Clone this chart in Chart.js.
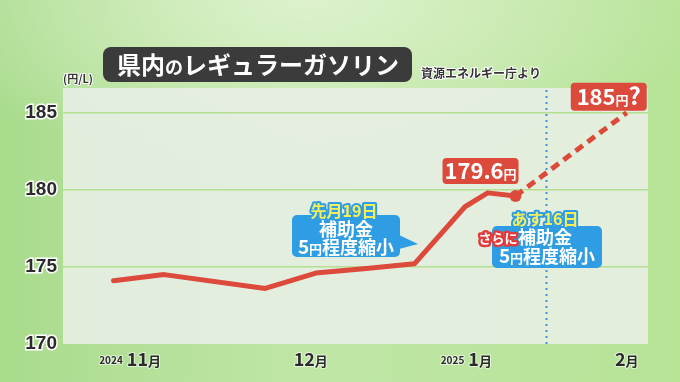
<!DOCTYPE html>
<html>
<head>
<meta charset="utf-8">
<script src="https://cdn.jsdelivr.net/npm/chart.js@4"></script>
<style>
  html, body { margin: 0; padding: 0; }
  body {
    width: 680px; height: 382px; overflow: hidden;
    background:
      radial-gradient(ellipse 60% 45% at 45% 0%, rgba(222,242,206,0.95) 0%, rgba(222,242,206,0) 100%),
      linear-gradient(90deg, #a8db8c 0%, #c0e6a6 45%, #b6e396 100%);
  }
  #wrap { position: relative; width: 680px; height: 382px; }
</style>
</head>
<body>
<div id="wrap"><canvas id="chart" width="680" height="382"></canvas></div>
<script>
// days counted from 2024-11-01
const pointDays = [-9.5, 0.5, 20.5, 30.5, 40.5, 50, 60, 64.5, 70];
const prices = [174.1, 174.5, 173.6, 174.6, 174.9, 175.2, 178.9, 179.8, 179.6];
const forecastDays = [70, 92];
const forecastPrices = [179.6, 185];
const yTicks = [170, 175, 180, 185];
const monthTickDays = [-3.5, 29.5, 63, 92];
const monthLabels = ['11', '12', '1', '2'];
const yearLabels = ['2024', '', '2025', ''];
const cutDay = 76; // あす16日

const FONT = '"Noto Sans CJK JP", "Noto Sans", sans-serif';
const RED = '#dc4a3c';
const BLUE = '#2f9de4';

function runs(ctx, parts, cx, baseline, fill, stroke, sw) {
  let total = 0;
  parts.forEach(p => { ctx.font = 'bold ' + p[1] + 'px ' + FONT; p.w = ctx.measureText(p[0]).width; total += p.w; });
  let x = cx - total / 2;
  ctx.textAlign = 'left';
  ctx.textBaseline = 'alphabetic';
  parts.forEach(p => {
    ctx.font = 'bold ' + p[1] + 'px ' + FONT;
    if (stroke) {
      ctx.strokeStyle = stroke; ctx.lineWidth = sw; ctx.lineJoin = 'round';
      ctx.strokeText(p[0], x, baseline);
    }
    ctx.fillStyle = fill;
    ctx.fillText(p[0], x, baseline);
    x += p.w;
  });
  return total;
}

function box(ctx, x, y, w, h, r, color) {
  ctx.beginPath();
  ctx.roundRect(x, y, w, h, r);
  ctx.fillStyle = color;
  ctx.fill();
}

const panelPlugin = {
  id: 'panel',
  beforeDraw(chart) {
    const { ctx, chartArea: a } = chart;
    ctx.save();
    ctx.fillStyle = 'rgba(232,238,228,0.9)';
    ctx.fillRect(a.left, a.top, a.right - a.left, a.bottom - a.top);
    ctx.restore();
  },
  beforeDatasetsDraw(chart) {
    const { ctx, chartArea: a } = chart;
    const x = Math.round(chart.scales.x.getPixelForValue(cutDay)) + 0.5;
    ctx.save();
    ctx.strokeStyle = '#4a8fd4';
    ctx.lineWidth = 2;
    ctx.setLineDash([2, 4]);
    ctx.beginPath();
    ctx.moveTo(x, a.top + 2);
    ctx.lineTo(x, a.bottom);
    ctx.stroke();
    ctx.restore();
  }
};

const notePlugin = {
  id: 'notes',
  afterDraw(chart) {
    const { ctx } = chart;
    const xs = chart.scales.x;
    ctx.save();

    // title
    box(ctx, 103, 47, 309, 35, 8, '#3b3b3b');
    runs(ctx, [['県内', 24], ['の', 18], ['レギュラーガソリン', 24]], 258, 74, '#ffffff');
    runs(ctx, [['資源エネルギー庁より', 12]], 481, 78, '#333333', '#ffffff', 2);
    runs(ctx, [['(円/L)', 11]], 78, 83, '#333333', '#ffffff', 2);

    // month labels
    monthTickDays.forEach((d, i) => {
      const px = xs.getPixelForValue(d);
      const w = runs(ctx, [[monthLabels[i], 18], ['月', 13]], px, 366, '#2b2b2b', 'rgba(255,255,255,0.6)', 2);
      if (yearLabels[i]) {
        ctx.font = 'bold 10px ' + FONT;
        const yw = ctx.measureText(yearLabels[i]).width;
        runs(ctx, [[yearLabels[i], 10]], px - w / 2 - 4 - yw / 2, 364, '#2b2b2b', 'rgba(255,255,255,0.6)', 2);
      }
    });

    // callout 1
    box(ctx, 292, 215, 108, 42, 5, BLUE);
    ctx.beginPath();
    ctx.moveTo(399, 235); ctx.lineTo(418, 244); ctx.lineTo(399, 249); ctx.closePath();
    ctx.fillStyle = BLUE; ctx.fill();
    runs(ctx, [['先月19日', 16]], 344, 217, '#f4ee5c', BLUE, 4);
    runs(ctx, [['補助金', 18]], 346, 236, '#ffffff');
    runs(ctx, [['5', 19], ['円', 13], ['程度縮小', 18]], 346, 254, '#ffffff');

    // callout 2
    box(ctx, 492, 226, 110, 42, 5, BLUE);
    runs(ctx, [['あす16日', 16]], 545, 225, '#f4ee5c', BLUE, 4);
    runs(ctx, [['さらに', 13]], 498, 243, '#ffffff', '#e03c3c', 5);
    runs(ctx, [['補助金', 18]], 545, 244, '#ffffff');
    runs(ctx, [['5', 19], ['円', 13], ['程度縮小', 18]], 547, 263, '#ffffff');

    // value labels
    const last = chart.getDatasetMeta(0).data[prices.length - 1];
    box(ctx, last.x - 73, last.y - 38, 76, 26, 4, RED);
    runs(ctx, [['179.6', 22], ['円', 13]], last.x - 35, last.y - 17, '#ffffff');
    const end = chart.getDatasetMeta(1).data[1];
    box(ctx, end.x - 56, end.y - 30, 76, 28, 4, RED);
    runs(ctx, [['185', 22], ['円', 13], ['?', 24]], end.x - 18, end.y - 8, '#ffffff');

    ctx.restore();
  }
};

new Chart(document.getElementById('chart').getContext('2d'), {
  type: 'line',
  data: {
    datasets: [{
      data: pointDays.map((d, i) => ({ x: d, y: prices[i] })),
      borderColor: RED,
      borderWidth: 5,
      tension: 0,
      borderJoinStyle: 'round',
      borderCapStyle: 'round',
      pointRadius: prices.map((p, i) => i === prices.length - 1 ? 6 : 0),
      pointBackgroundColor: RED,
      pointBorderWidth: 0
    }, {
      data: forecastDays.map((d, i) => ({ x: d, y: forecastPrices[i] })),
      borderColor: RED,
      borderWidth: 5,
      borderDash: [9, 6],
      borderCapStyle: 'butt',
      pointRadius: 0
    }]
  },
  options: {
    responsive: false,
    animation: false,
    layout: { padding: { top: 88, right: 32, left: 0, bottom: 0 } },
    plugins: { legend: { display: false }, tooltip: { enabled: false } },
    scales: {
      x: {
        type: 'linear',
        min: -19.5,
        max: 96.2,
        grid: { display: false },
        border: { display: false },
        ticks: { display: false },
        afterFit(s) { s.height = 38; }
      },
      y: {
        min: 170,
        max: 186.6,
        afterFit(s) { s.width = 63; },
        afterBuildTicks(s) { s.ticks = yTicks.map(v => ({ value: v })); },
        grid: {
          drawTicks: false,
          lineWidth: 1.5,
          color: c => c.tick && c.tick.value === 170 ? 'rgba(0,0,0,0)' : 'rgba(176,222,140,0.95)'
        },
        border: { display: false },
        ticks: {
          padding: 6,
          color: '#2b2b2b',
          textStrokeColor: '#ffffff',
          textStrokeWidth: 3,
          font: { family: 'Liberation Sans', weight: 'bold', size: 19 }
        }
      }
    }
  },
  plugins: [panelPlugin, notePlugin]
});
</script>
</body>
</html>
